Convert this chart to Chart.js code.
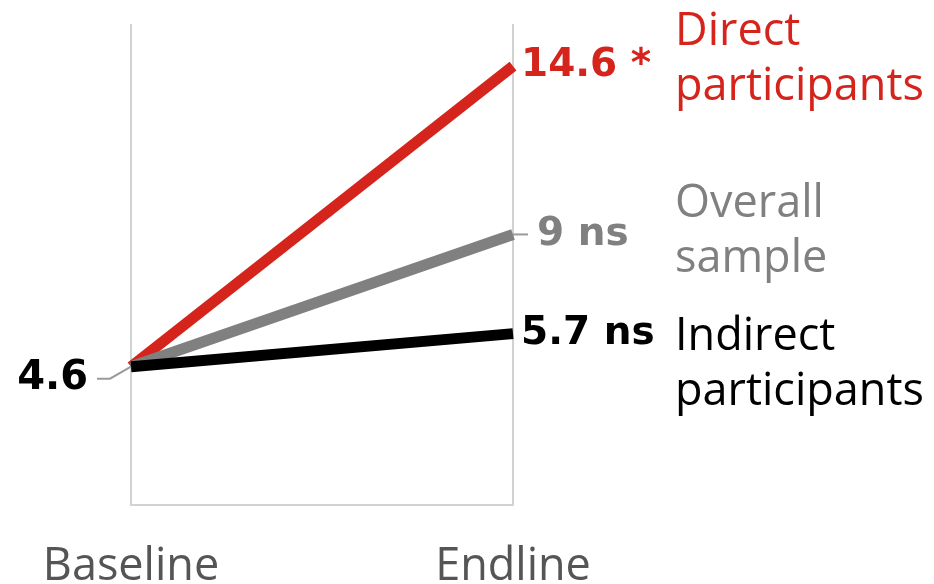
<!DOCTYPE html>
<html>
<head>
<meta charset="utf-8">
<script src="https://cdn.jsdelivr.net/npm/chart.js@4/dist/chart.umd.min.js"></script>
<style>
  html, body { margin: 0; padding: 0; background: #fff; }
  canvas { display: block; }
</style>
</head>
<body>
<canvas id="chartSlope" width="934" height="584"></canvas>
<script>
// datos
const periodos = ["Baseline", "Endline"];
const grupos = [["Direct", "participants"], ["Overall", "sample"], ["Indirect", "participants"]];
const valoresBaseline = [4.6, 4.6, 4.6];
const valoresEndline = [14.6, 9, 5.7];
const significancia = ["*", "ns", "ns"];

const colores = ["#d4241c", "#808080", "#000000"];
const gris = "#d2d2d2";

// etiquetas de valor y nombres de grupo a la derecha
const etiquetas = {
  id: "etiquetas",
  afterDatasetsDraw(chart) {
    const ctx = chart.ctx;
    const x = chart.scales.x, y = chart.scales.y;
    const x0 = x.getPixelForValue(0), x1 = x.getPixelForValue(1);

    ctx.save();
    // valor inicial con su guía
    const yb = y.getPixelForValue(valoresBaseline[2]);
    ctx.strokeStyle = "#9a9a9a";
    ctx.lineWidth = 2;
    ctx.beginPath();
    ctx.moveTo(x0 - 34, yb + 12);
    ctx.lineTo(x0 - 21, yb + 12);
    ctx.lineTo(x0, yb);
    ctx.stroke();
    ctx.font = "bold 40px 'DejaVu Sans'";
    ctx.fillStyle = "#000";
    ctx.textAlign = "right";
    ctx.textBaseline = "middle";
    ctx.fillText(valoresBaseline[2].toString(), x0 - 43, yb + 12);

    const guia = [0, 15, 0];
    const desplazaNombre = [-21, -17, 16];
    valoresEndline.forEach((v, i) => {
      const py = y.getPixelForValue(v);
      let tx = x1 + 8;
      if (guia[i]) {
        ctx.strokeStyle = "#9a9a9a";
        ctx.lineWidth = 2;
        ctx.beginPath();
        ctx.moveTo(x1, py);
        ctx.lineTo(x1 + guia[i], py);
        ctx.stroke();
        tx = x1 + guia[i] + 9;
      }
      ctx.font = "bold 39px 'DejaVu Sans'";
      ctx.fillStyle = colores[i];
      ctx.textAlign = "left";
      ctx.textBaseline = "middle";
      ctx.fillText(v + " " + significancia[i], tx, py);

      ctx.font = "45px 'Open Sans'";
      ctx.textBaseline = "alphabetic";
      grupos[i].forEach((linea, j) => {
        ctx.fillText(linea, 675, py + desplazaNombre[i] + j * 55);
      });
    });
    ctx.restore();
  }
};

const ctx = document.getElementById("chartSlope").getContext("2d");
new Chart(ctx, {
  type: "line",
  data: {
    labels: periodos,
    datasets: valoresEndline.map((v, i) => ({
      label: grupos[i].join(" "),
      data: [valoresBaseline[i], v],
      borderColor: colores[i],
      borderWidth: 11,
      borderCapStyle: "butt",
      pointRadius: 0,
      tension: 0,
      order: 3 - i
    }))
  },
  options: {
    responsive: false,
    animation: false,
    devicePixelRatio: 1,
    layout: { padding: { left: 131, right: 421, top: 24, bottom: 0 } },
    plugins: { legend: { display: false }, tooltip: { enabled: false } },
    scales: {
      x: {
        offset: false,
        grid: { color: gris, lineWidth: 2, drawTicks: false },
        border: { color: gris, width: 2 },
        ticks: {
          color: "#555",
          font: { family: "'Open Sans'", size: 45 },
          padding: 35,
          maxRotation: 0,
          autoSkip: false
        },
        afterFit(scale) { scale.height = 79; }
      },
      y: { display: false, min: 0, max: 16 }
    }
  },
  plugins: [etiquetas]
});
</script>
</body>
</html>
